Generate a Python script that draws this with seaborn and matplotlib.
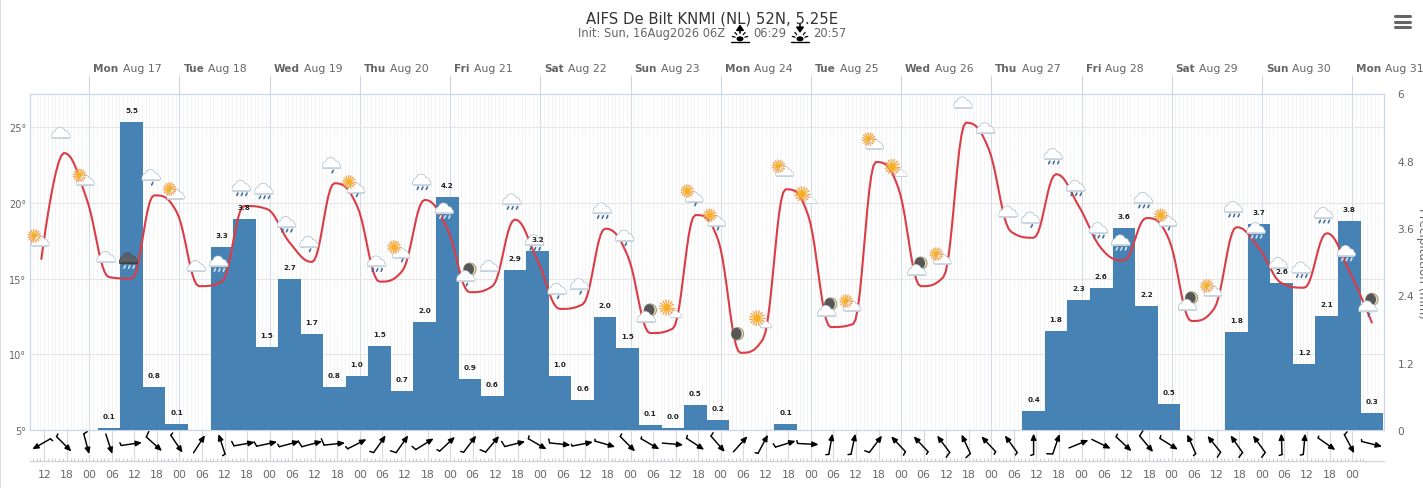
# AIFS De Bilt meteogram - temperature, precipitation, wind
import numpy as np
import pandas as pd
import matplotlib
matplotlib.use('Agg')
import matplotlib.pyplot as plt
import seaborn as sns
from matplotlib.patches import Circle, Ellipse, FancyBboxPatch, Rectangle

# ─────────────────────────────────────────
# DATA (6 hourly, hours counted from Mon Aug 17 00z)
# ─────────────────────────────────────────
hours = list(range(-12, 343, 6))

temp = [16.3, 23.3, 20.3, 15.1, 15.0, 20.5, 19.4, 14.5, 14.8, 19.8,
        19.6, 17.4, 16.1, 21.3, 19.8, 14.8, 15.5, 20.2, 18.3, 14.1,
        14.5, 18.9, 16.2, 13.0, 13.3, 18.3, 16.5, 11.4, 11.7, 19.2,
        17.6, 10.1, 11.0, 20.9, 19.2, 11.8, 12.0, 22.7, 21.0, 14.5,
        15.1, 25.3, 23.6, 18.1, 17.7, 21.9, 19.8, 17.0, 16.2, 19.0,
        17.6, 12.2, 13.0, 18.4, 17.0, 14.7, 14.4, 18.0, 15.5, 12.1]

rain = [0, 0, 0, 0.04, 5.49, 0.77, 0.11, 0, 3.27, 3.76,
        1.48, 2.69, 1.71, 0.77, 0.96, 1.50, 0.70, 1.93, 4.15, 0.91,
        0.61, 2.85, 3.19, 0.96, 0.53, 2.01, 1.46, 0.09, 0.04, 0.45,
        0.18, 0, 0, 0.11, 0, 0, 0, 0, 0, 0,
        0, 0, 0, 0, 0.34, 1.76, 2.32, 2.53, 3.60, 2.21,
        0.46, 0, 0, 1.75, 3.67, 2.62, 1.18, 2.03, 3.73, 0.30]

rain_labels = ['', '', '', '0.1', '5.5', '0.8', '0.1', '', '3.3', '3.8',
               '1.5', '2.7', '1.7', '0.8', '1.0', '1.5', '0.7', '2.0', '4.2', '0.9',
               '0.6', '2.9', '3.2', '1.0', '0.6', '2.0', '1.5', '0.1', '0.0', '0.5',
               '0.2', '', '', '0.1', '', '', '', '', '', '',
               '', '', '', '', '0.4', '1.8', '2.3', '2.6', '3.6', '2.2',
               '0.5', '', '', '1.8', '3.7', '2.6', '1.2', '2.1', '3.8', '0.3']

wind_dir = [210, 315, 285, 288, 8, 318, 304, 57, 108, 10,
            12, 15, 15, 6, 27, 55, 55, 32, 43, 53,
            50, 14, 330, 354, 11, 344, 315, 330, 355, 327,
            311, 48, 62, 17, 357, 80, 78, 53, 133, 133,
            127, 115, 133, 126, 90, 71, 22, 334, 317, 310,
            328, 114, 129, 125, 126, 92, 85, 325, 298, 346]

wind_barb = [3, 3, 4, 0, 3, 6, 3, 0, 3, 5,
             5, 3, 7, 7, 3, 4, 6, 5, 3, 3,
             6, 6, 3, 4, 2, 2, 3, 2, 0, 3,
             4, 0, 3, 4, 3, 3, 3, 5, 4, 3,
             6, 6, 3, 3, 3, 6, 0, 0, 3, 6,
             3, 3, 6, 6, 6, 3, 3, 2, 4, 2]

icons = ['sun', 'cloud', 'sun', 'cloud', 'storm', 'drop', 'sun', 'cloud', 'shower', 'rain',
         'rain', 'rain', 'drop', 'drop', 'sundrop', 'rain', 'sundrop', 'rain', 'shower', 'moondrop',
         'cloud', 'rain', 'rain', 'drop', 'drop', 'rain', 'drop', 'moon', 'bright', 'sundrop',
         'sundrop', 'moononly', 'bright', 'sun', 'bright', 'moon', 'sun', 'sun', 'bright', 'moon',
         'sun', 'cloud', 'cloud', 'cloud', 'drop', 'rain', 'rain', 'rain', 'shower', 'rain',
         'sundrop', 'moon', 'sun', 'rain', 'shower', 'cloud', 'rain', 'rain', 'shower', 'moondrop']

day_names = ['Mon', 'Tue', 'Wed', 'Thu', 'Fri', 'Sat', 'Sun', 'Mon', 'Tue', 'Wed', 'Thu', 'Fri', 'Sat', 'Sun', 'Mon']
day_dates = ['Aug 17', 'Aug 18', 'Aug 19', 'Aug 20', 'Aug 21', 'Aug 22', 'Aug 23', 'Aug 24',
             'Aug 25', 'Aug 26', 'Aug 27', 'Aug 28', 'Aug 29', 'Aug 30', 'Aug 31']

temp_ticks = [5, 10, 15, 20, 25]
rain_ticks = [0, 1.2, 2.4, 3.6, 4.8, 6]

# ─────────────────────────────────────────
# SETUP
# ─────────────────────────────────────────
sns.set_theme(style='white')
plt.rcParams['font.family'] = ['DejaVu Sans']

W, H = 1423, 489
GREY = '#666666'
AXIS = '#ccd6eb'
SHIFT = -0.75      # the series sit a little left of the ticks

fig = plt.figure(figsize=(W / 100, H / 100), dpi=100, facecolor='white')

def px_axes(left, top, right, bottom):
    return fig.add_axes([left / W, 1 - bottom / H, (right - left) / W, (bottom - top) / H])

XLIM = (-15.91, 344.4)
PT = 0.72   # points per pixel

df = pd.DataFrame({'t': [h + SHIFT for h in hours], 'temp': temp, 'rain': rain})

# ─────────────────────────────────────────
# GRID AXIS (back)
# ─────────────────────────────────────────
ax_temp = px_axes(29.5, 94.5, 1383.7, 431)
ax_temp.set_xlim(XLIM)
ax_temp.set_ylim(5, 27.23)
ax_temp.set_xticks(np.arange(0, 337, 24))
ax_temp.set_xticks(np.arange(-15, 344, 1), minor=True)
ax_temp.grid(True, which='minor', axis='x', color='#f3f3f3', lw=0.6)
ax_temp.grid(True, which='major', axis='x', color='#d5dbe6', lw=0.8)
ax_temp.set_yticks(temp_ticks)
ax_temp.set_yticklabels([f'{t}°' for t in temp_ticks], fontsize=7, color=GREY)
ax_temp.grid(True, which='major', axis='y', color='#e6e6e6', lw=0.8)
ax_temp.tick_params(axis='y', length=0, pad=2.5)
ax_temp.xaxis.tick_top()
ax_temp.tick_params(axis='x', which='major', length=19 * PT, width=0.8, color=AXIS, labeltop=False, top=True, bottom=False)
ax_temp.tick_params(axis='x', which='minor', length=0)
ax_temp.set_axisbelow(True)
for side in ax_temp.spines:
    ax_temp.spines[side].set_color(AXIS)
    ax_temp.spines[side].set_linewidth(0.9)

# ─────────────────────────────────────────
# PRECIPITATION BARS
# ─────────────────────────────────────────
ax_rain = ax_temp.twinx()
ax_rain.patch.set_visible(False)
sns.barplot(data=df, x='t', y='rain', native_scale=True, width=1, color='#4682b4',
            saturation=1, errorbar=None, linewidth=0, ax=ax_rain)
ax_rain.set_xlim(XLIM)
ax_rain.set_ylim(0, 6)
ax_rain.set_xlabel('')
ax_rain.set_ylabel('')
ax_rain.yaxis.tick_right()
ax_rain.set_yticks(rain_ticks)
ax_rain.set_yticklabels([f'{t:g}' for t in rain_ticks], fontsize=7.6, color=GREY)
ax_rain.tick_params(axis='y', length=0, pad=10)
ax_rain.tick_params(axis='x', length=0, labelbottom=False)
for side in ax_rain.spines:
    ax_rain.spines[side].set_visible(False)

# ─────────────────────────────────────────
# TEMPERATURE LINE (highcharts style spline through the 6h values)
# ─────────────────────────────────────────
def spline_xy(xs, ys, steps=12):
    n = len(xs)
    left, right = [ys[0]] * n, [ys[0]] * n
    lx, rx = list(xs), list(xs)
    right[-1] = left[-1] = ys[-1]
    for i in range(1, n - 1):
        x, y = xs[i], ys[i]
        lx[i] = (1.5 * x + xs[i - 1]) / 2.5
        rx[i] = (1.5 * x + xs[i + 1]) / 2.5
        ly = (1.5 * y + ys[i - 1]) / 2.5
        ry = (1.5 * y + ys[i + 1]) / 2.5
        corr = (ry - ly) * (rx[i] - x) / (rx[i] - lx[i]) + y - ry
        ly += corr
        ry += corr
        if ly > ys[i - 1] and ly > y:
            ly = max(ys[i - 1], y)
            ry = 2 * y - ly
        elif ly < ys[i - 1] and ly < y:
            ly = min(ys[i - 1], y)
            ry = 2 * y - ly
        if ry > ys[i + 1] and ry > y:
            ry = max(ys[i + 1], y)
            ly = 2 * y - ry
        elif ry < ys[i + 1] and ry < y:
            ry = min(ys[i + 1], y)
            ly = 2 * y - ry
        left[i], right[i] = ly, ry
    sx, sy = [], []
    u = np.linspace(0, 1, steps)
    for i in range(n - 1):
        sx += list((1 - u)**3 * xs[i] + 3 * (1 - u)**2 * u * rx[i] + 3 * (1 - u) * u**2 * lx[i + 1] + u**3 * xs[i + 1])
        sy += list((1 - u)**3 * ys[i] + 3 * (1 - u)**2 * u * right[i] + 3 * (1 - u) * u**2 * left[i + 1] + u**3 * ys[i + 1])
    return sx, sy

ax_line = ax_temp.twinx()
ax_line.patch.set_visible(False)
line_x, line_y = spline_xy(list(df['t']), temp)
sns.lineplot(x=line_x, y=line_y, sort=False, estimator=None, errorbar=None,
             color='#dc3c46', lw=1.5, ax=ax_line)
ax_line.set_xlim(XLIM)
ax_line.set_ylim(5, 27.23)
ax_line.set_yticks([])
ax_line.set_ylabel('')
for side in ax_line.spines:
    ax_line.spines[side].set_visible(False)

# ─────────────────────────────────────────
# BOTTOM TIME AXIS
# ─────────────────────────────────────────
ax_time = px_axes(29.5, 431, 1383.7, 462)
ax_time.set_xlim(XLIM)
ax_time.set_ylim(0, 1)
ax_time.patch.set_visible(False)
time_ticks = np.arange(-12, 337, 6)
ax_time.set_xticks(time_ticks)
ax_time.set_xticklabels([f'{(t + 240) % 24:02d}' for t in time_ticks], fontsize=7.8, color=GREY)
ax_time.set_xticks(np.arange(-15, 340, 1), minor=True)
ax_time.set_yticks([])
ax_time.tick_params(axis='x', which='major', bottom=True, direction='in', length=31 * PT, width=0.8, color='#d8d8d8', pad=5.5)
ax_time.tick_params(axis='x', which='minor', bottom=True, direction='in', length=3.5 * PT, width=0.6, color='#c4c4c4')
for side in ['left', 'right', 'top']:
    ax_time.spines[side].set_visible(False)
ax_time.spines['bottom'].set_color('#cfd3da')
ax_time.spines['bottom'].set_linewidth(0.9)

# ─────────────────────────────────────────
# OVERLAY IN PIXELS: icons, labels, wind, header
# ─────────────────────────────────────────
ov = fig.add_axes([0, 0, 1, 1])
ov.set_xlim(0, W)
ov.set_ylim(H, 0)
ov.axis('off')
ov.patch.set_visible(False)

def to_px(ax, x, y):
    px, py = ax.transData.transform((x, y))
    return px, H - py

def cloud(cx, cy, s=1.0, fill='white', edge='#a9bccb', base='#c6d3de'):
    parts = [(-5.2, 0.8, 3.3), (-0.8, -1.6, 4.8), (4.2, 0.6, 3.5)]
    for dx, dy, r in parts:
        ov.add_patch(Circle((cx + dx * s, cy + dy * s), (r + 0.7) * s, fc=edge, ec='none'))
    ov.add_patch(FancyBboxPatch((cx - 8.6 * s, cy + 1.3 * s), 17.2 * s, 2.2 * s, boxstyle='round,pad=0.9',
                                fc=edge, ec='none'))
    for dx, dy, r in parts:
        ov.add_patch(Circle((cx + dx * s, cy + dy * s), r * s, fc=fill, ec='none'))
    ov.add_patch(FancyBboxPatch((cx - 8.4 * s, cy + 1.2 * s), 16.8 * s, 2.0 * s, boxstyle='round,pad=0.5',
                                fc=fill, ec='none'))
    ov.plot([cx - 8 * s, cx + 8 * s], [cy + 3.8 * s, cy + 3.8 * s], color=base, lw=1.2 * s, solid_capstyle='round')

def drops(cx, cy, n, color='#3c6d9c'):
    offs = {1: [1], 2: [-3, 3], 3: [-4, 0.5, 5]}[n]
    for dx in offs:
        ov.plot([cx + dx + 0.7, cx + dx - 0.5], [cy + 6.0, cy + 8.6], color=color, lw=1.15, solid_capstyle='round')

def sun(cx, cy, r=3.2, ray=6.8):
    for ang in np.arange(0, 360, 24):
        a = np.radians(ang)
        ov.plot([cx + (r + 0.4) * np.cos(a), cx + ray * np.cos(a)], [cy + (r + 0.4) * np.sin(a), cy + ray * np.sin(a)],
                color='#f6a24a', lw=0.95, solid_capstyle='butt')
    ov.add_patch(Circle((cx, cy), r, fc='#f7b021', ec='#f4c542', lw=0.6))

def moon(cx, cy, r=6.2):
    ov.add_patch(Circle((cx, cy), r, fc='#e9dfbc', ec='#9c9578', lw=0.7))
    ov.add_patch(Ellipse((cx - 0.9, cy), 2 * r - 2.2, 2 * r - 0.6, fc='#565656', ec='none'))

def weather_icon(kind, cx, cy):
    if kind == 'cloud':
        cloud(cx, cy)
    elif kind in ('rain', 'drop', 'shower'):
        cloud(cx, cy)
        drops(cx, cy, {'rain': 3, 'drop': 1, 'shower': 3}[kind], '#3c6d9c' if kind != 'shower' else '#dbe6f0')
    elif kind == 'storm':
        cloud(cx, cy, fill='#5c5f63', edge='#48494c', base='#3f4144')
        drops(cx, cy, 3, '#d7e3ee')
    elif kind == 'sun':
        sun(cx - 4, cy - 4)
        cloud(cx + 2, cy + 2, 0.95)
    elif kind == 'sundrop':
        sun(cx - 5, cy - 5)
        cloud(cx + 2, cy + 2, 0.95)
        drops(cx + 2, cy + 1, 1)
    elif kind == 'bright':
        sun(cx - 3, cy - 2, 3.8, 8.0)
        cloud(cx + 6, cy + 5, 0.6)
    elif kind == 'moon':
        moon(cx + 3, cy - 4)
        cloud(cx - 1, cy + 4)
    elif kind == 'moondrop':
        moon(cx + 3, cy - 4)
        cloud(cx - 1, cy + 4)
        drops(cx - 1, cy + 4, 1)
    elif kind == 'moononly':
        moon(cx, cy)

for t, tv, ic in zip(df['t'], temp, icons):
    px, py = to_px(ax_line, t, tv)
    weather_icon(ic, px - 3, py - 19)

for t, rv, lab in zip(df['t'], rain, rain_labels):
    if lab:
        px, py = to_px(ax_rain, t, rv)
        ov.text(px, py - 12, lab, ha='center', va='center', fontsize=5.2, fontweight='bold', color='#222222')

# wind arrows with a tick at the tail
ARROW = 21
for t, ang, barb in zip(hours, wind_dir, wind_barb):
    px, _ = to_px(ax_temp, t + SHIFT, 5)
    a = np.radians(ang)
    ux, uy = np.cos(a), -np.sin(a)
    head = (px + ux * ARROW / 2, 445 + uy * ARROW / 2)
    tail = (px - ux * ARROW / 2, 445 - uy * ARROW / 2)
    ov.annotate('', xy=head, xytext=tail,
                arrowprops=dict(arrowstyle='-|>,head_width=0.2,head_length=0.45', color='black',
                                lw=1.05, shrinkA=0, shrinkB=0, mutation_scale=8))
    if barb:
        # left of the way the arrow points, leaning back a bit
        bx = uy * 0.95 - ux * 0.3
        by = -ux * 0.95 - uy * 0.3
        ov.plot([tail[0], tail[0] + bx * barb], [tail[1], tail[1] + by * barb], color='black', lw=1.05,
                solid_capstyle='round')

# day labels above the plot
renderer = fig.canvas.get_renderer()
for i, (name, date) in enumerate(zip(day_names, day_dates)):
    px, _ = to_px(ax_temp, i * 24, 5)
    bold = ov.text(px + 4, 72, name, ha='left', va='baseline', fontsize=7.6, fontweight='bold', color=GREY)
    w = bold.get_window_extent(renderer).width
    ov.text(px + 4 + w + 4, 72, date, ha='left', va='baseline', fontsize=7.8, color=GREY)

# title
ov.text(712, 19, 'AIFS De Bilt KNMI (NL) 52N, 5.25E', ha='center', va='center', fontsize=10.7, color='#333333')
ov.text(578, 37, 'Init: Sun, 16Aug2026 06Z', ha='left', va='baseline', fontsize=8.3, color=GREY)
ov.text(753, 37, '06:29', ha='left', va='baseline', fontsize=8.3, color=GREY)
ov.text(813.5, 37, '20:57', ha='left', va='baseline', fontsize=8.3, color=GREY)

def sun_mark(cx, up):
    ov.plot([cx - 9, cx + 9], [42.5, 42.5], color='black', lw=1.0)
    ov.add_patch(Ellipse((cx, 39.8), 7, 5, fc='black', ec='none'))
    for ang in [15, 50, 130, 165]:
        a = np.radians(ang)
        ov.plot([cx + 5 * np.cos(a), cx + 8 * np.cos(a)], [39.5 - 5 * np.sin(a), 39.5 - 8 * np.sin(a)],
                color='black', lw=0.9)
    y0, y1 = (34, 25.5) if up else (25.5, 34)
    ov.annotate('', xy=(cx, y1), xytext=(cx, y0),
                arrowprops=dict(arrowstyle='-|>,head_width=0.25,head_length=0.35', color='black',
                                lw=1.2, shrinkA=0, shrinkB=0, mutation_scale=9))

sun_mark(740, True)
sun_mark(800, False)

# menu button
for y in [17.3, 22.7, 28]:
    ov.plot([1395, 1409.5], [y, y], color=GREY, lw=2.2, solid_capstyle='round')

# right axis title, runs off the edge like the original
ov.text(1423, 263, 'Precipitation (mm)', rotation=270, ha='center', va='center', fontsize=8.6, color=GREY)

# thin frame of the page
ov.add_patch(Rectangle((0, 0), W, 1.2, fc='#dddddd', ec='none'))
ov.add_patch(Rectangle((0, 0), 1.2, H, fc='#dddddd', ec='none'))

fig.savefig('out.png', dpi=100, facecolor='white')
